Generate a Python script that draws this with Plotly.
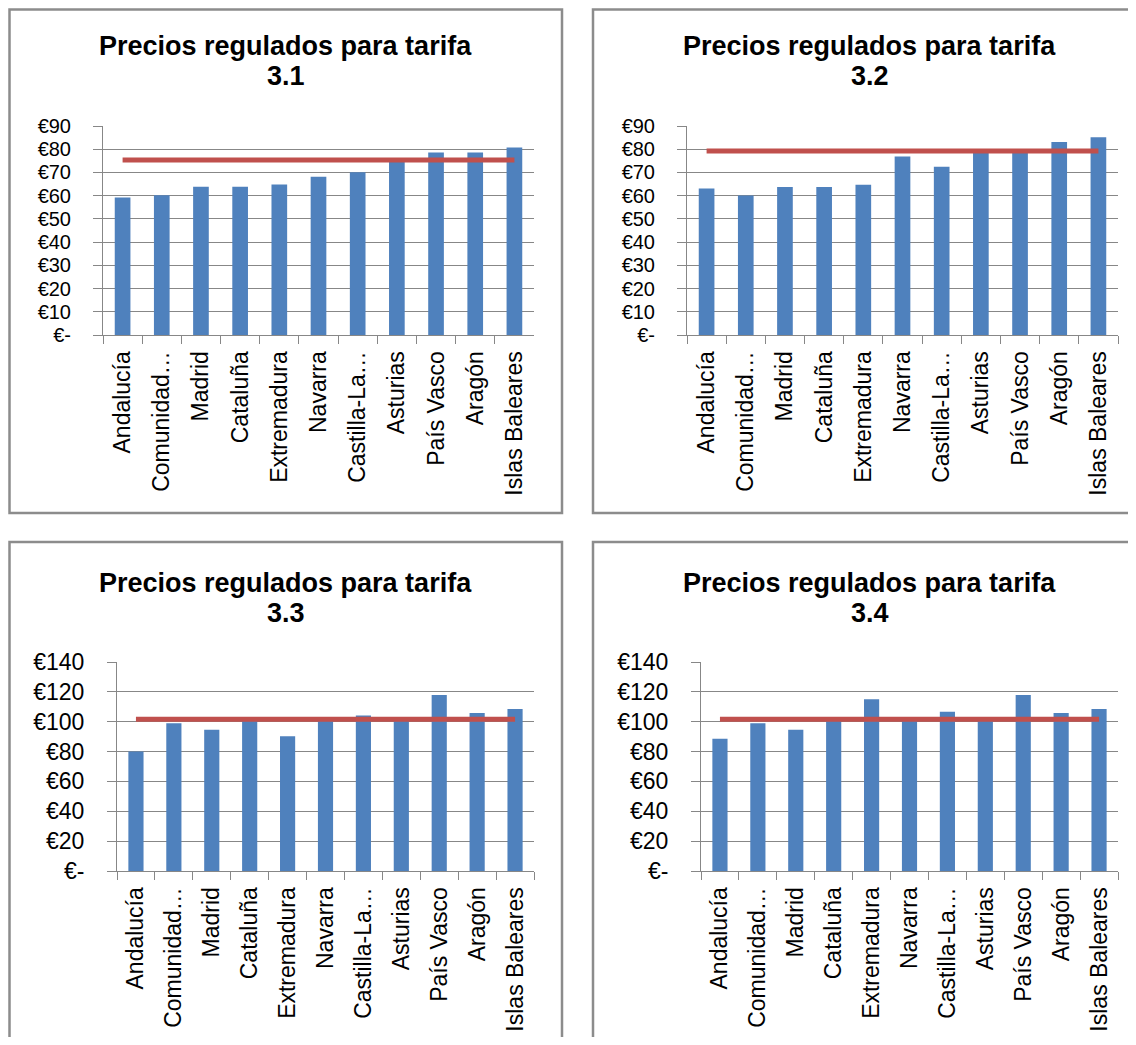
import plotly.graph_objects as go

# ---------------- data ----------------
categorias = ["Andalucía", "Comunidad…", "Madrid", "Cataluña", "Extremadura", "Navarra",
              "Castilla-La…", "Asturias", "País Vasco", "Aragón", "Islas Baleares"]

precios_31 = [59.2, 60.2, 63.8, 63.8, 64.8, 68.1, 70.1, 75.5, 78.6, 78.6, 80.7]
media_31 = 75.4
precios_32 = [63.1, 60.1, 63.7, 63.7, 64.7, 76.9, 72.5, 79.3, 79.3, 83.1, 85.2]
media_32 = 79.2
precios_33 = [80.0, 98.9, 94.6, 101.0, 90.2, 101.0, 104.2, 100.7, 117.9, 105.8, 108.5]
media_33 = 101.6
precios_34 = [88.6, 98.9, 94.6, 101.0, 115.1, 101.0, 106.7, 100.7, 117.9, 105.8, 108.5]
media_34 = 101.6

titulo = "Precios regulados para tarifa"
tarifas = ["3.1", "3.2", "3.3", "3.4"]

ticks_sup = [0, 10, 20, 30, 40, 50, 60, 70, 80, 90]
etiquetas_sup = ["€-", "€10", "€20", "€30", "€40", "€50", "€60", "€70", "€80", "€90"]
ticks_inf = [0, 20, 40, 60, 80, 100, 120, 140]
etiquetas_inf = ["€-", "€20", "€40", "€60", "€80", "€100", "€120", "€140"]

# ---------------- layout helpers ----------------
OFF = 8                      # default body margin of the html page
W, H = 1136 - 2 * OFF, 1045 - 2 * OFF
def fx(p):
    return (p - OFF) / W
def fy(p):
    return 1 - (p - OFF) / H

BAR = "#4F81BD"
LINE = "#C0504D"
GRID = "#878787"
FONT = "Liberation Sans, Arial, sans-serif"

series = [precios_31, precios_32, precios_33, precios_34]
medias = [media_31, media_32, media_33, media_34]
# plot areas in page pixels: (x0, x1, ytop, ybottom)
areas = [(103, 534, 126, 335), (687, 1118, 126, 335),
         (117, 534, 662, 871), (701, 1118, 662, 871)]
boxes = [(9.5, 9.5, 562, 513), (593, 9.5, 1146, 513), (9.5, 542, 562, 1050), (593, 542, 1146, 1050)]
title_y = [5, 5, 542, 542]

fig = go.Figure()
layout = dict(width=W, height=H, margin=dict(l=0, r=0, t=0, b=0, autoexpand=False),
              paper_bgcolor="white", plot_bgcolor="white", showlegend=False,
              bargap=0.6, hovermode=False, font=dict(family=FONT, size=23, color="black"))
shapes = []
annotations = []

for i in range(4):
    k = "" if i == 0 else str(i + 1)
    xa, ya = "x" + k, "y" + k
    fig.add_trace(go.Bar(x=categorias, y=series[i], marker=dict(color=BAR, line=dict(width=0)),
                         xaxis=xa, yaxis=ya))
    fig.add_trace(go.Scatter(x=categorias, y=[medias[i]] * len(categorias), mode="lines",
                             line=dict(color=LINE, width=5), xaxis=xa, yaxis=ya))
    x0, x1, yt, yb = areas[i]
    top = i < 2
    tv = ticks_sup if top else ticks_inf
    tt = etiquetas_sup if top else etiquetas_inf
    yfs = 20 if top else 23
    layout["xaxis" + k] = dict(domain=[fx(x0), fx(x1)], anchor=ya, type="category",
                               showline=True, linecolor=GRID, linewidth=1,
                               ticks="outside", tickson="boundaries", ticklen=8, tickcolor=GRID,
                               tickangle=-90, tickfont=dict(family=FONT, size=23, color="black"),
                               ticklabelstandoff=6, automargin=False,
                               showgrid=False, fixedrange=True)
    layout["yaxis" + k] = dict(domain=[fy(yb), fy(yt)], anchor=xa, range=[0, tv[-1]],
                               tickvals=tv, ticktext=tt, showline=True, linecolor=GRID,
                               linewidth=1, ticks="outside", ticklen=9, tickcolor=GRID,
                               showgrid=True, gridcolor=GRID, gridwidth=1, zeroline=False,
                               tickfont=dict(family=FONT, size=yfs, color="black"),
                               ticklabelstandoff=18, automargin=False, fixedrange=True)
    bx0, by0, bx1, by1 = boxes[i]
    shapes.append(dict(type="rect", xref="paper", yref="paper",
                       x0=fx(bx0), x1=fx(bx1), y0=fy(by1), y1=fy(by0),
                       line=dict(color="#8C8C8C", width=2.5), layer="below"))
    cx = (bx0 + bx1) / 2
    ty = title_y[i]
    annotations.append(dict(xref="paper", yref="paper", x=fx(cx), y=fy(ty + 41),
                            text="<b>" + titulo + "</b>", showarrow=False,
                            xanchor="center", yanchor="middle",
                            font=dict(family=FONT, size=27, color="black")))
    annotations.append(dict(xref="paper", yref="paper", x=fx(cx), y=fy(ty + 71),
                            text="<b>" + tarifas[i] + "</b>", showarrow=False,
                            xanchor="center", yanchor="middle",
                            font=dict(family=FONT, size=27, color="black")))

layout["shapes"] = shapes
layout["annotations"] = annotations
fig.update_layout(**layout)
fig.write_html("out.html")
